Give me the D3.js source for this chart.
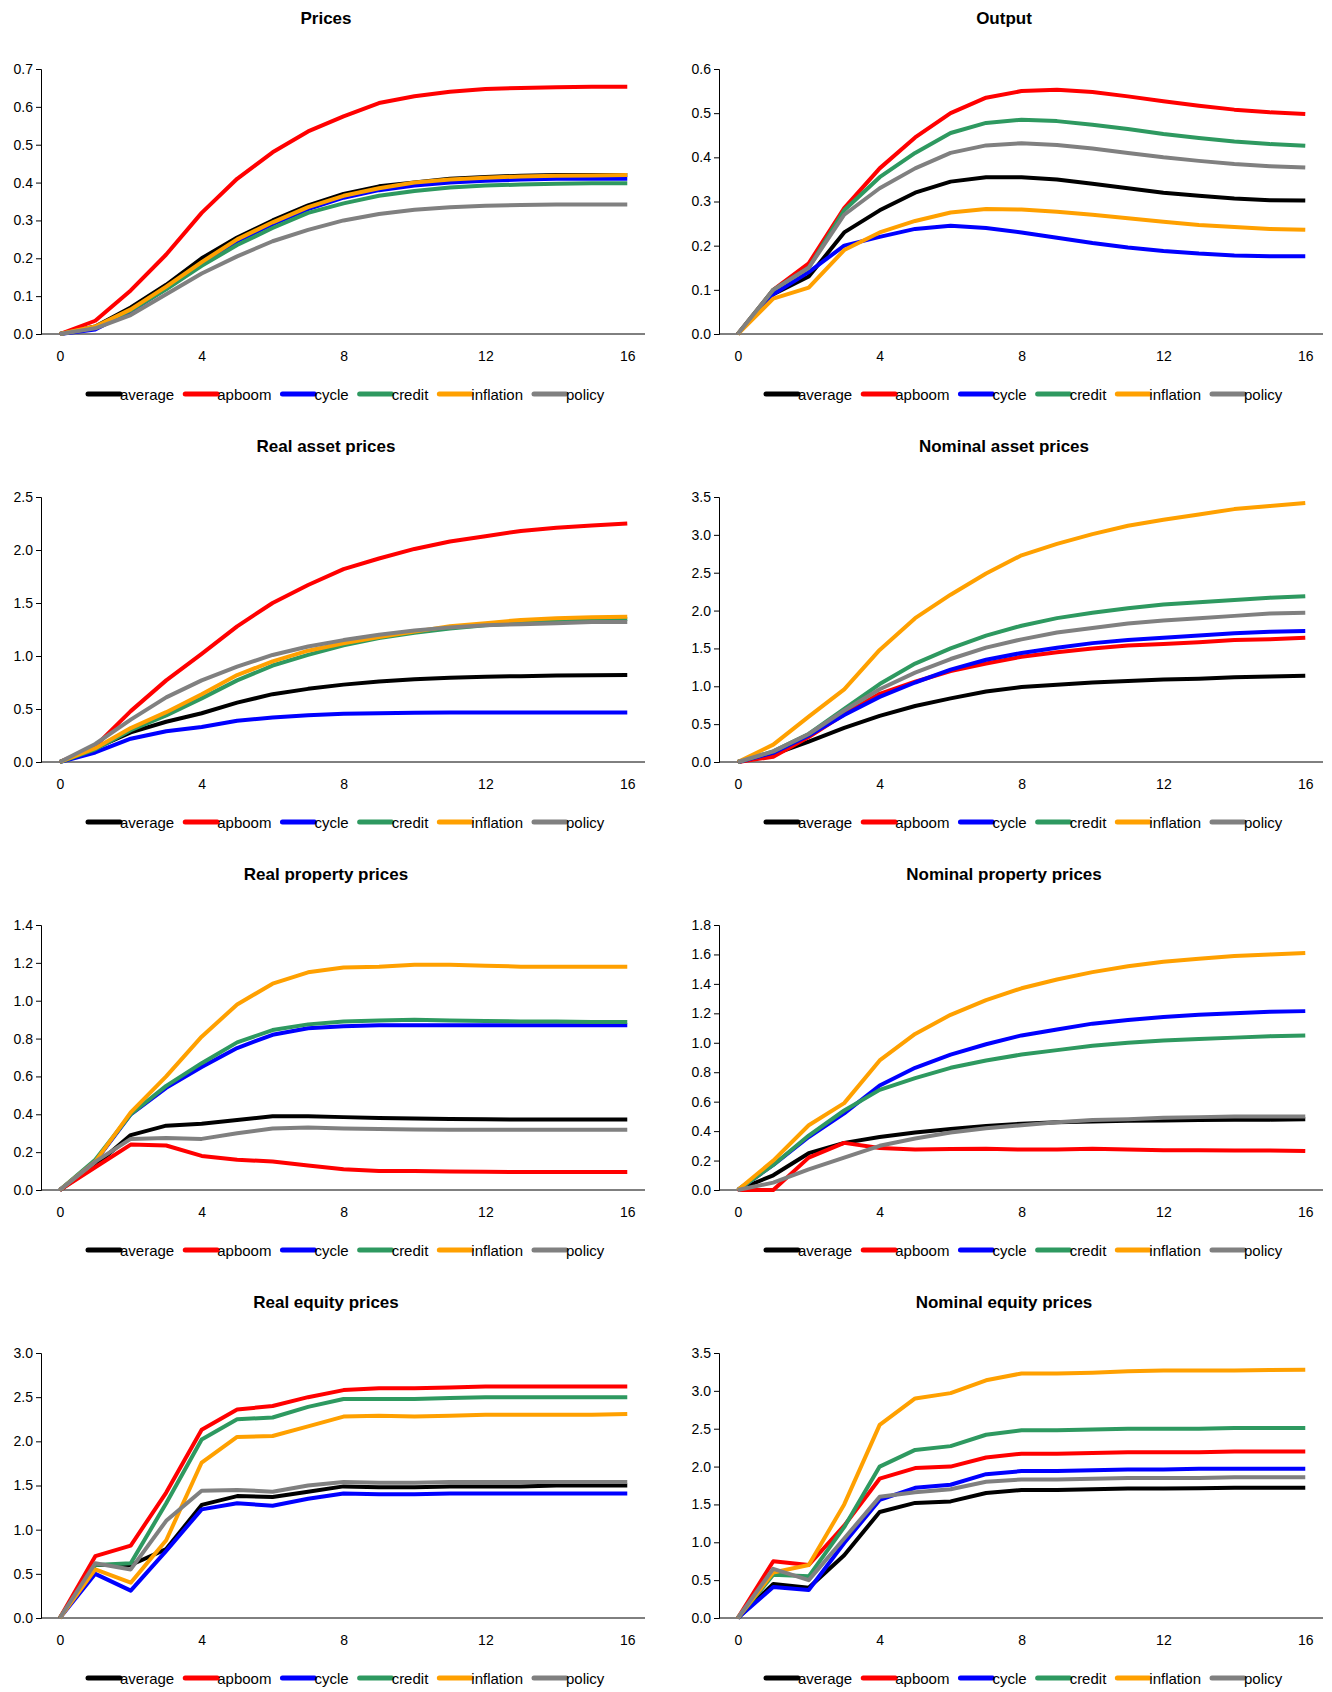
<!DOCTYPE html>
<html><head><meta charset="utf-8">
<script src="https://cdn.jsdelivr.net/npm/d3@7"></script>
<style>body{margin:0;background:#fff}text{font-family:"Liberation Sans",Arial,sans-serif}</style>
</head><body><svg id="c" width="1332" height="1692"></svg>
<script>
const seriesNames=["average","apboom","cycle","credit","inflation","policy"];
const colors=["#000000","#ff0000","#0000ff","#2e9960","#ffa000","#808080"];
const xTicks=[0,4,8,12,16];
const titles=["Prices","Output","Real asset prices","Nominal asset prices","Real property prices","Nominal property prices","Real equity prices","Nominal equity prices"];
const yMax=[0.7,0.6,2.5,3.5,1.4,1.8,3.0,3.5];
const yStep=[0.1,0.1,0.5,0.5,0.2,0.2,0.5,0.5];
const prices=[
[0,0.02,0.07,0.13,0.20,0.255,0.30,0.34,0.37,0.39,0.40,0.41,0.415,0.418,0.42,0.42,0.42],
[0,0.035,0.115,0.21,0.32,0.41,0.48,0.535,0.575,0.61,0.628,0.64,0.647,0.65,0.652,0.653,0.653],
[0,0.012,0.06,0.12,0.185,0.245,0.29,0.33,0.36,0.38,0.392,0.40,0.405,0.408,0.41,0.41,0.41],
[0,0.018,0.062,0.118,0.18,0.235,0.28,0.32,0.345,0.365,0.378,0.387,0.392,0.395,0.397,0.398,0.398],
[0,0.02,0.065,0.125,0.19,0.25,0.295,0.335,0.365,0.385,0.40,0.408,0.413,0.416,0.418,0.419,0.42],
[0,0.015,0.05,0.105,0.16,0.205,0.245,0.275,0.30,0.317,0.328,0.335,0.339,0.341,0.342,0.342,0.342]];
const output=[
[0,0.09,0.13,0.23,0.28,0.32,0.345,0.355,0.355,0.35,0.34,0.33,0.32,0.313,0.307,0.303,0.302],
[0,0.1,0.16,0.285,0.375,0.445,0.5,0.535,0.55,0.553,0.548,0.538,0.527,0.517,0.508,0.502,0.498],
[0,0.09,0.14,0.2,0.22,0.238,0.245,0.24,0.23,0.218,0.206,0.196,0.188,0.182,0.178,0.176,0.176],
[0,0.1,0.15,0.28,0.355,0.41,0.455,0.478,0.485,0.482,0.474,0.464,0.453,0.444,0.436,0.43,0.426],
[0,0.08,0.105,0.19,0.23,0.256,0.275,0.283,0.282,0.277,0.27,0.262,0.254,0.247,0.242,0.238,0.236],
[0,0.1,0.15,0.27,0.33,0.375,0.41,0.427,0.432,0.428,0.42,0.41,0.4,0.392,0.385,0.38,0.377]];
const realAsset=[
[0,0.13,0.28,0.38,0.46,0.56,0.64,0.69,0.73,0.76,0.78,0.795,0.805,0.81,0.815,0.818,0.82],
[0,0.15,0.48,0.77,1.02,1.28,1.5,1.67,1.82,1.92,2.01,2.08,2.13,2.18,2.21,2.23,2.25],
[0,0.09,0.22,0.29,0.33,0.39,0.42,0.44,0.455,0.46,0.465,0.468,0.468,0.468,0.467,0.468,0.468],
[0,0.12,0.3,0.44,0.6,0.77,0.91,1.01,1.1,1.17,1.22,1.26,1.29,1.31,1.33,1.34,1.35],
[0,0.13,0.32,0.47,0.64,0.82,0.95,1.05,1.12,1.18,1.23,1.28,1.31,1.34,1.355,1.365,1.37],
[0,0.17,0.4,0.61,0.77,0.9,1.01,1.09,1.15,1.2,1.24,1.27,1.29,1.3,1.31,1.32,1.32]];
const nomAsset=[
[0,0.1,0.27,0.45,0.61,0.74,0.84,0.93,0.99,1.02,1.05,1.07,1.09,1.1,1.12,1.13,1.14],
[0,0.07,0.33,0.63,0.9,1.06,1.2,1.3,1.39,1.45,1.5,1.54,1.56,1.58,1.61,1.62,1.64],
[0,0.12,0.35,0.62,0.86,1.05,1.22,1.35,1.44,1.51,1.57,1.61,1.64,1.67,1.7,1.72,1.73],
[0,0.14,0.37,0.7,1.03,1.3,1.5,1.67,1.8,1.9,1.97,2.03,2.08,2.11,2.14,2.17,2.19],
[0,0.23,0.6,0.96,1.48,1.9,2.21,2.49,2.73,2.88,3.01,3.12,3.2,3.27,3.34,3.38,3.42],
[0,0.14,0.37,0.68,0.96,1.18,1.36,1.51,1.62,1.71,1.77,1.83,1.87,1.9,1.93,1.96,1.97]];
const realProp=[
[0,0.13,0.29,0.34,0.35,0.37,0.39,0.39,0.385,0.38,0.378,0.375,0.374,0.372,0.372,0.372,0.372],
[0,0.12,0.24,0.235,0.18,0.16,0.15,0.13,0.11,0.1,0.1,0.098,0.096,0.095,0.095,0.095,0.095],
[0,0.15,0.4,0.54,0.65,0.75,0.82,0.855,0.865,0.87,0.87,0.87,0.87,0.87,0.87,0.87,0.87],
[0,0.16,0.4,0.55,0.67,0.78,0.845,0.875,0.89,0.895,0.9,0.895,0.893,0.89,0.89,0.888,0.888],
[0,0.15,0.41,0.6,0.81,0.98,1.09,1.15,1.175,1.18,1.19,1.19,1.185,1.18,1.18,1.18,1.18],
[0,0.15,0.27,0.275,0.27,0.3,0.325,0.33,0.325,0.322,0.32,0.318,0.318,0.318,0.318,0.318,0.318]];
const nomProp=[
[0,0.1,0.25,0.32,0.36,0.39,0.415,0.435,0.45,0.46,0.465,0.47,0.472,0.475,0.477,0.478,0.48],
[0,0,0.22,0.32,0.285,0.275,0.278,0.28,0.275,0.275,0.28,0.275,0.27,0.27,0.268,0.268,0.265],
[0,0.17,0.36,0.52,0.71,0.83,0.92,0.99,1.05,1.09,1.13,1.155,1.175,1.19,1.2,1.21,1.215],
[0,0.17,0.37,0.54,0.68,0.76,0.83,0.88,0.92,0.95,0.98,1.0,1.015,1.025,1.035,1.045,1.05],
[0,0.2,0.44,0.59,0.88,1.06,1.19,1.29,1.37,1.43,1.48,1.52,1.55,1.57,1.59,1.6,1.61],
[0,0.05,0.14,0.22,0.3,0.35,0.39,0.42,0.44,0.46,0.475,0.48,0.49,0.495,0.5,0.5,0.5]];
const realEq=[
[0,0.6,0.6,0.78,1.28,1.38,1.37,1.43,1.49,1.48,1.48,1.49,1.49,1.49,1.5,1.5,1.5],
[0,0.7,0.82,1.42,2.13,2.36,2.4,2.5,2.58,2.6,2.6,2.61,2.62,2.62,2.62,2.62,2.62],
[0,0.5,0.31,0.76,1.23,1.3,1.27,1.35,1.41,1.4,1.4,1.41,1.41,1.41,1.41,1.41,1.41],
[0,0.6,0.62,1.3,2.02,2.25,2.27,2.39,2.48,2.48,2.48,2.49,2.5,2.5,2.5,2.5,2.5],
[0,0.55,0.4,0.88,1.76,2.05,2.06,2.17,2.28,2.29,2.28,2.29,2.3,2.3,2.3,2.3,2.31],
[0,0.62,0.55,1.1,1.44,1.45,1.43,1.5,1.54,1.53,1.53,1.54,1.54,1.54,1.54,1.54,1.54]];
const nomEq=[
[0,0.45,0.4,0.83,1.4,1.52,1.54,1.65,1.69,1.69,1.7,1.71,1.71,1.715,1.72,1.72,1.72],
[0,0.75,0.7,1.22,1.84,1.98,2.0,2.12,2.17,2.17,2.18,2.19,2.19,2.19,2.2,2.2,2.2],
[0,0.41,0.37,0.99,1.56,1.72,1.76,1.9,1.94,1.94,1.95,1.96,1.96,1.97,1.97,1.97,1.97],
[0,0.57,0.55,1.2,2.0,2.22,2.27,2.42,2.48,2.48,2.49,2.5,2.5,2.5,2.51,2.51,2.51],
[0,0.6,0.7,1.5,2.55,2.9,2.97,3.14,3.23,3.23,3.24,3.26,3.27,3.27,3.27,3.275,3.28],
[0,0.65,0.5,1.05,1.6,1.66,1.7,1.8,1.83,1.83,1.84,1.85,1.85,1.85,1.86,1.86,1.86]];
const panels=[prices,output,realAsset,nomAsset,realProp,nomProp,realEq,nomEq];

const svg=d3.select("#c");
panels.forEach((data,p)=>{
  const ox=(p%2)*678, oy=Math.floor(p/2)*428;
  const g=svg.append("g").attr("transform",`translate(${ox},${oy})`);
  const x=d3.scaleLinear().domain([-0.53,16.5]).range([41,645]);
  const y=d3.scaleLinear().domain([0,yMax[p]]).range([334,69]);
  g.append("text").attr("x",326).attr("y",24).attr("text-anchor","middle")
    .attr("font-weight","bold").attr("font-size",17).text(titles[p]);
  const ticks=d3.range(0,yMax[p]+1e-9,yStep[p]);
  const ya=g.append("g").attr("transform","translate(41,0)")
    .call(d3.axisLeft(y).tickValues(ticks).tickFormat(d3.format(".1f")).tickSizeOuter(0).tickSize(5));
  ya.selectAll("text").attr("font-size",14).attr("fill","#000");
  ya.select(".domain").attr("stroke","#000");
  g.append("line").attr("x1",41).attr("x2",645).attr("y1",y(0)).attr("y2",y(0)).attr("stroke","#000");
  const xa=g.append("g").attr("transform",`translate(0,${y(0)})`)
    .call(d3.axisBottom(x).tickValues(xTicks).tickSize(0).tickPadding(17));
  xa.select(".domain").remove();
  xa.selectAll("text").attr("font-size",14).attr("fill","#000");
  const line=d3.line().x((d,i)=>x(i)).y(d=>y(d));
  data.forEach((s,k)=>{
    g.append("path").attr("d",line(s)).attr("fill","none").attr("stroke",colors[k])
     .attr("stroke-width",4).attr("stroke-linejoin","round");
  });
  const lg=g.append("g");
  let cx=0;
  seriesNames.forEach((n,k)=>{
    lg.append("line").attr("x1",cx).attr("x2",cx+32).attr("y1",0).attr("y2",0)
      .attr("stroke",colors[k]).attr("stroke-width",5).attr("stroke-linecap","round");
    const t=lg.append("text").attr("x",cx+32).attr("y",6).attr("font-size",15).text(n);
    cx+=32+t.node().getComputedTextLength()+11;
  });
  lg.attr("transform",`translate(${88},394)`);
});
</script></body></html>
